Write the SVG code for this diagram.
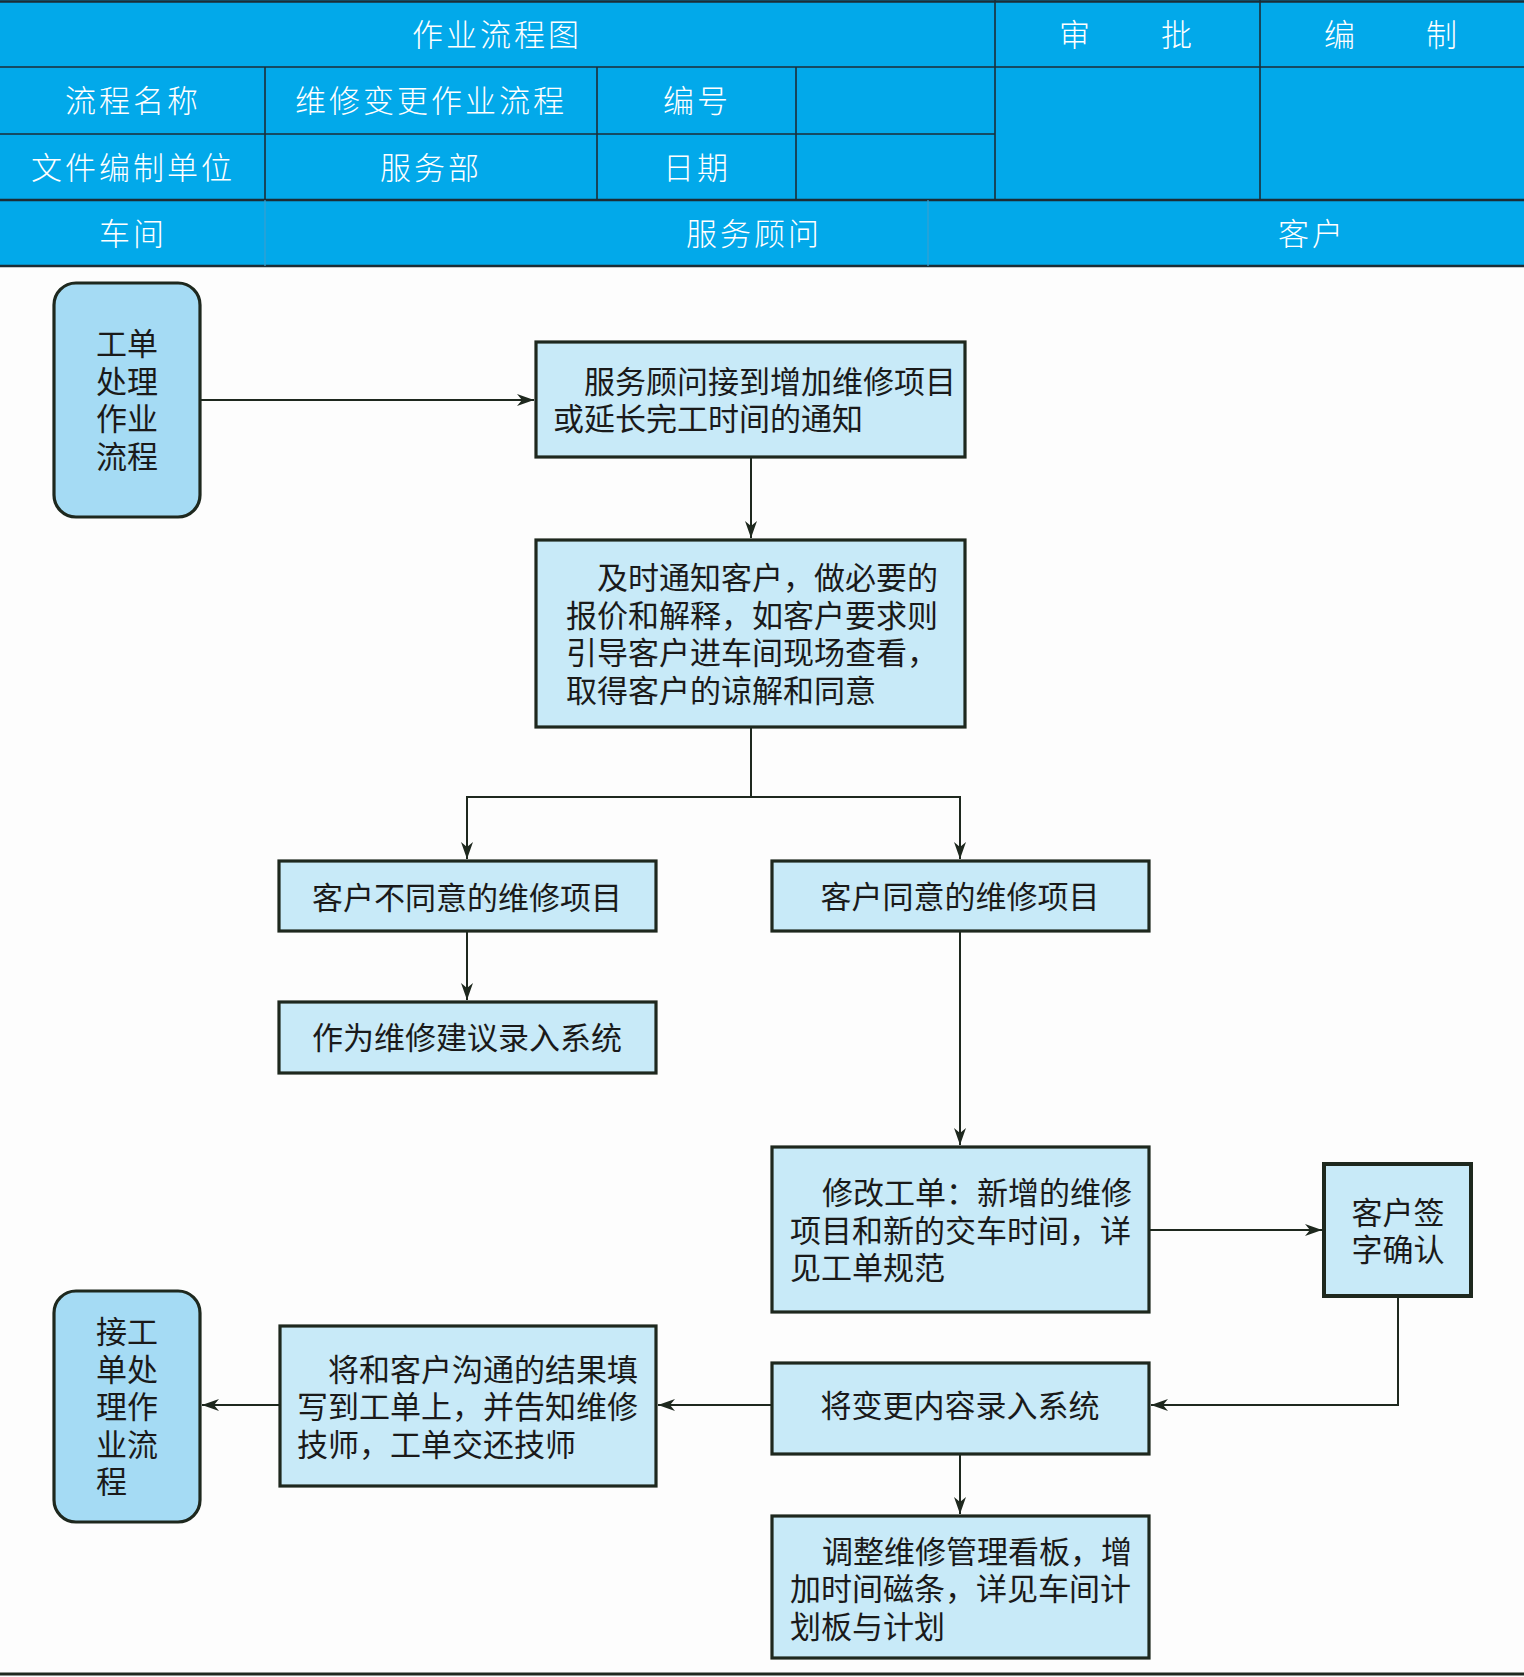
<svg xmlns="http://www.w3.org/2000/svg" width="1524" height="1677" viewBox="0 0 1524 1677">
<defs>
<style>
.hdr{fill:#ffffff;font-family:"Noto Sans CJK SC","Noto Sans",sans-serif;font-size:31px;letter-spacing:3px;font-weight:300}
.grid{stroke:#1c2d36;stroke-width:1.6;fill:none}
.gridb{stroke:#1c2d36;stroke-width:2.6;fill:none}
.gridl{stroke:#3aa0cf;stroke-width:1.2;fill:none}
.box{fill:#c8eaf8;stroke:#1e281e;stroke-width:3.2}
.rbox{fill:#a5dbf4;stroke:#1e281e;stroke-width:3.2}
.t{fill:#1a1a1a;font-family:"Noto Sans CJK SC","Noto Sans",sans-serif;font-size:31px}
.c{text-anchor:middle}
.con{stroke:#1e281e;stroke-width:2;fill:none}
</style>
<marker id="ah" markerUnits="userSpaceOnUse" markerWidth="18" markerHeight="12" refX="17" refY="6" orient="auto">
<path d="M0,0 L17,6 L0,12 L5,6 z" fill="#1e281e"/>
</marker>
</defs>
<rect x="0" y="0" width="1524" height="1677" fill="#fdfdfd"/>
<g id="header">
<rect x="0" y="0" width="1524" height="266" fill="#02a9ea"/>
<line class="gridb" x1="0" y1="1.5" x2="1524" y2="1.5"/>
<line class="grid" x1="0" y1="67" x2="1524" y2="67"/>
<line class="grid" x1="0" y1="134" x2="995" y2="134"/>
<line class="gridb" x1="0" y1="200" x2="1524" y2="200"/>
<line class="gridb" x1="0" y1="266" x2="1524" y2="266"/>
<line class="grid" x1="995" y1="0" x2="995" y2="200"/>
<line class="grid" x1="1260" y1="0" x2="1260" y2="200"/>
<line class="grid" x1="265" y1="67" x2="265" y2="200"/>
<line class="grid" x1="597" y1="67" x2="597" y2="200"/>
<line class="grid" x1="796" y1="67" x2="796" y2="200"/>
<line class="gridl" x1="265" y1="200" x2="265" y2="266"/>
<line class="gridl" x1="928" y1="200" x2="928" y2="266"/>
<text class="hdr c" x="497" y="46">作业流程图</text>
<text class="hdr c" x="1127" y="46">审　　批</text>
<text class="hdr c" x="1392" y="46">编　　制</text>
<text class="hdr c" x="133" y="112">流程名称</text>
<text class="hdr c" x="431" y="112">维修变更作业流程</text>
<text class="hdr c" x="697" y="112">编号</text>
<text class="hdr c" x="133" y="179">文件编制单位</text>
<text class="hdr c" x="431" y="179">服务部</text>
<text class="hdr c" x="697" y="179">日期</text>
<text class="hdr c" x="133" y="245">车间</text>
<text class="hdr c" x="754" y="245">服务顾问</text>
<text class="hdr c" x="1312" y="245">客户</text>
</g>
<g id="connectors">
<path class="con" d="M200,400 H534" marker-end="url(#ah)"/>
<path class="con" d="M751,457 V538" marker-end="url(#ah)"/>
<path class="con" d="M751,727 V797 H467 V859" marker-end="url(#ah)"/>
<path class="con" d="M751,797 H960 V859" marker-end="url(#ah)"/>
<path class="con" d="M467,931 V1000" marker-end="url(#ah)"/>
<path class="con" d="M960,931 V1145" marker-end="url(#ah)"/>
<path class="con" d="M1149,1230 H1322" marker-end="url(#ah)"/>
<path class="con" d="M1398,1296 V1405 H1151" marker-end="url(#ah)"/>
<path class="con" d="M960,1454 V1514" marker-end="url(#ah)"/>
<path class="con" d="M772,1405 H658" marker-end="url(#ah)"/>
<path class="con" d="M280,1405 H202" marker-end="url(#ah)"/>
</g>
<g id="n_start">
<rect class="rbox" x="54" y="283" width="146" height="234" rx="22"/>
<text class="t"><tspan x="96" y="355">工单</tspan><tspan x="96" y="393">处理</tspan><tspan x="96" y="430">作业</tspan><tspan x="96" y="468">流程</tspan></text>
</g>
<g id="n_notice">
<rect class="box" x="536" y="342" width="429" height="115"/>
<text class="t"><tspan x="584" y="393">服务顾问接到增加维修项目</tspan><tspan x="553" y="430">或延长完工时间的通知</tspan></text>
</g>
<g id="n_inform">
<rect class="box" x="536" y="540" width="429" height="187"/>
<text class="t"><tspan x="597" y="589">及时通知客户，做必要的</tspan><tspan x="566" y="627">报价和解释，如客户要求则</tspan><tspan x="566" y="664">引导客户进车间现场查看，</tspan><tspan x="566" y="702">取得客户的谅解和同意</tspan></text>
</g>
<g id="n_disagree">
<rect class="box" x="279" y="861" width="377" height="70"/>
<text class="t c" x="467" y="909">客户不同意的维修项目</text>
</g>
<g id="n_suggest">
<rect class="box" x="279" y="1002" width="377" height="71"/>
<text class="t c" x="467" y="1049">作为维修建议录入系统</text>
</g>
<g id="n_agree">
<rect class="box" x="772" y="861" width="377" height="70"/>
<text class="t c" x="960" y="908">客户同意的维修项目</text>
</g>
<g id="n_modify">
<rect class="box" x="772" y="1147" width="377" height="165"/>
<text class="t"><tspan x="822" y="1204">修改工单：新增的维修</tspan><tspan x="790" y="1242">项目和新的交车时间，详</tspan><tspan x="790" y="1279">见工单规范</tspan></text>
</g>
<g id="n_sign">
<rect class="box" x="1324" y="1164" width="147" height="132" style="stroke-width:4"/>
<text class="t c"><tspan x="1398" y="1224">客户签</tspan><tspan x="1398" y="1261">字确认</tspan></text>
</g>
<g id="n_enter">
<rect class="box" x="772" y="1363" width="377" height="91"/>
<text class="t c" x="960" y="1417">将变更内容录入系统</text>
</g>
<g id="n_board">
<rect class="box" x="772" y="1516" width="377" height="142"/>
<text class="t"><tspan x="822" y="1563">调整维修管理看板，增</tspan><tspan x="790" y="1600">加时间磁条，详见车间计</tspan><tspan x="790" y="1638">划板与计划</tspan></text>
</g>
<g id="n_fill">
<rect class="box" x="280" y="1326" width="376" height="160"/>
<text class="t"><tspan x="328" y="1381">将和客户沟通的结果填</tspan><tspan x="297" y="1418">写到工单上，并告知维修</tspan><tspan x="297" y="1456">技师，工单交还技师</tspan></text>
</g>
<g id="n_end">
<rect class="rbox" x="54" y="1291" width="146" height="231" rx="22"/>
<text class="t"><tspan x="96" y="1343">接工</tspan><tspan x="96" y="1381">单处</tspan><tspan x="96" y="1418">理作</tspan><tspan x="96" y="1456">业流</tspan><tspan x="96" y="1493">程</tspan></text>
</g>
<line x1="0" y1="1674" x2="1524" y2="1674" stroke="#1e281e" stroke-width="3"/>
</svg>
